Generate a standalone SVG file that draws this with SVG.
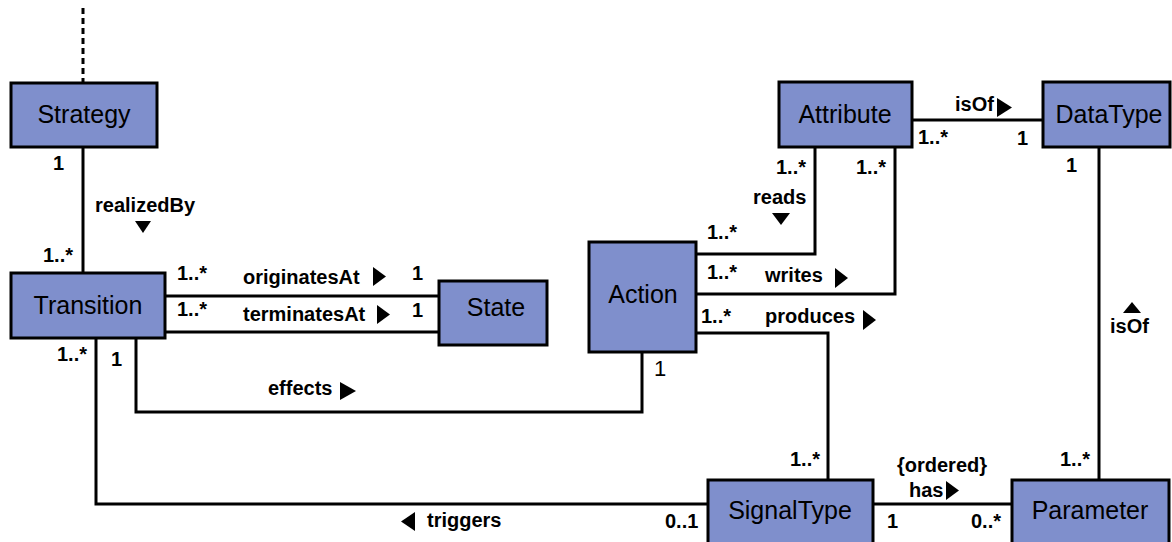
<svg xmlns="http://www.w3.org/2000/svg" width="1172" height="542" viewBox="0 0 1172 542">
<style>
.box{fill:#7f8fcc;stroke:#000;stroke-width:3}
.name{font-family:"Liberation Sans",Arial,sans-serif;font-size:25px;text-anchor:middle;fill:#000}
.lbl{font-family:"Liberation Sans",Arial,sans-serif;font-size:20px;font-weight:bold;fill:#000}
.reg{font-family:"Liberation Sans",Arial,sans-serif;font-size:22px;fill:#000}
.ln{fill:none;stroke:#000;stroke-width:3}
.tri{fill:#000}
</style>
<rect width="1172" height="542" fill="#fff"/>
<g id="connectors">
<path class="ln" d="M83,8 V82" stroke-dasharray="6 4"/>
<path class="ln" d="M83,147 V272"/>
<path class="ln" d="M165,296 H439"/>
<path class="ln" d="M165,332 H439"/>
<path class="ln" d="M136,338 V412 H642 V352"/>
<path class="ln" d="M96,338 V504 H708"/>
<path class="ln" d="M815,147 V254 H696"/>
<path class="ln" d="M895,147 V294 H696"/>
<path class="ln" d="M696,333 H828 V480"/>
<path class="ln" d="M912,120 H1043"/>
<path class="ln" d="M1099,147 V480"/>
<path class="ln" d="M873,504 H1012"/>
</g>
<g id="labels">
<text class="lbl" x="53" y="170">1</text>
<text class="lbl" x="95" y="212">realizedBy</text>
<polygon class="tri" points="135,221 151,221 143,233"/>
<text class="lbl" x="43" y="262">1..*</text>
<text class="lbl" x="177" y="280">1..*</text>
<text class="lbl" x="243" y="284">originatesAt</text>
<polygon class="tri" points="373,267 373,286 386,276.5"/>
<text class="lbl" x="412" y="280">1</text>
<text class="lbl" x="177" y="316">1..*</text>
<text class="lbl" x="243" y="321">terminatesAt</text>
<polygon class="tri" points="377,305 377,324 390,314.5"/>
<text class="lbl" x="412" y="317">1</text>
<text class="lbl" x="57" y="361">1..*</text>
<text class="lbl" x="111" y="366">1</text>
<text class="lbl" x="268" y="395">effects</text>
<polygon class="tri" points="340,382 340,400 356,391"/>
<text class="reg" x="654" y="376">1</text>
<polygon class="tri" points="415,512 415,531 401,521.5"/>
<text class="lbl" x="427" y="527">triggers</text>
<text class="lbl" x="665" y="528">0..1</text>
<text class="lbl" x="790" y="466">1..*</text>
<text class="lbl" x="897" y="472">{ordered}</text>
<text class="lbl" x="909" y="497">has</text>
<polygon class="tri" points="946,481 946,500 959,490.5"/>
<text class="lbl" x="887" y="528">1</text>
<text class="lbl" x="971" y="528">0..*</text>
<text class="lbl" x="1060" y="466">1..*</text>
<text class="lbl" x="1066" y="172">1</text>
<polygon class="tri" points="1123,313 1141,313 1132,302"/>
<text class="lbl" x="1110" y="333">isOf</text>
<text class="lbl" x="955" y="111">isOf</text>
<polygon class="tri" points="997,98 997,117 1012,107.5"/>
<text class="lbl" x="918" y="144">1..*</text>
<text class="lbl" x="1017" y="145">1</text>
<text class="lbl" x="776" y="174">1..*</text>
<text class="lbl" x="856" y="174">1..*</text>
<text class="lbl" x="753" y="204">reads</text>
<polygon class="tri" points="772,213 790,213 781,225"/>
<text class="lbl" x="707" y="239">1..*</text>
<text class="lbl" x="707" y="279">1..*</text>
<text class="lbl" x="765" y="282">writes</text>
<polygon class="tri" points="835,268 835,288 848,278"/>
<text class="lbl" x="701" y="323">1..*</text>
<text class="lbl" x="765" y="323">produces</text>
<polygon class="tri" points="863,310 863,330 876,320"/>
</g>
<g id="Strategy"><rect class="box" x="11" y="83" width="146" height="64"/><text class="name" x="84" y="123">Strategy</text></g>
<g id="Transition"><rect class="box" x="11" y="273" width="154" height="65"/><text class="name" x="88" y="314">Transition</text></g>
<g id="State"><rect class="box" x="439" y="281" width="108" height="64"/><text class="name" x="496" y="316">State</text></g>
<g id="Action"><rect class="box" x="589" y="242" width="107" height="110"/><text class="name" x="643" y="303">Action</text></g>
<g id="Attribute"><rect class="box" x="779" y="82" width="133" height="65"/><text class="name" x="845" y="123">Attribute</text></g>
<g id="DataType"><rect class="box" x="1043" y="82" width="127" height="65"/><text class="name" x="1109" y="123">DataType</text></g>
<g id="SignalType"><rect class="box" x="708" y="480" width="165" height="68"/><text class="name" x="790" y="519">SignalType</text></g>
<g id="Parameter"><rect class="box" x="1012" y="480" width="157" height="68"/><text class="name" x="1090" y="519">Parameter</text></g>
</svg>
